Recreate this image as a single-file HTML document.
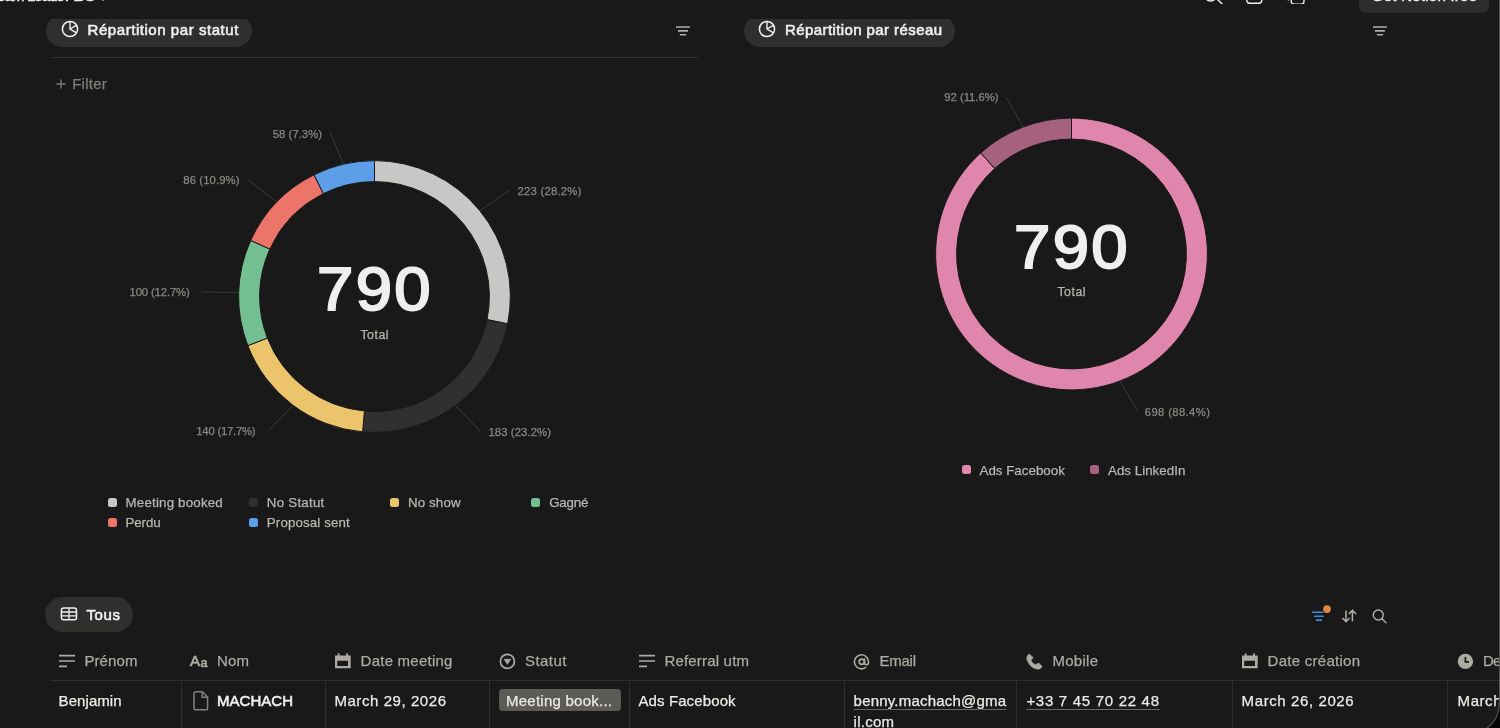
<!DOCTYPE html>
<html lang="fr"><head><meta charset="utf-8"><title>Leads ADS</title>
<style>
html,body{margin:0;padding:0;background:#050505;}
body{width:1500px;height:728px;overflow:hidden;position:relative;font-family:"Liberation Sans",sans-serif;}
#win{position:absolute;left:0;top:-60px;width:1500px;height:792px;background:#191919;overflow:hidden;}
#page{position:absolute;left:0;top:60px;width:1500px;height:728px;will-change:transform;}
.t{position:absolute;white-space:nowrap;line-height:20px;height:20px;}
.abs{position:absolute;}
svg{position:absolute;overflow:visible;}
svg text{font-family:"Liberation Sans",sans-serif;}
.pill{position:absolute;background:#2f2f2d;border-radius:17px;}
.vline{position:absolute;width:1px;background:#2e2e2e;top:681px;height:60px;}
.u{text-decoration:underline;text-decoration-color:#6a6a68;text-decoration-thickness:1px;text-underline-offset:2.5px;}
</style></head><body>
<div id="win"><div id="page">
<div class="t " style="left:-3.00px;top:-13.90px;font-size:15px;color:#f0efed;letter-spacing:-0.867px;-webkit-text-stroke:0.5px #f0efed;">eam Leads ADS</div>
<svg width="12" height="6" style="left:98px;top:-4px" viewBox="0 0 12 6"><path d="M1 0L5 4L9 0" fill="none" stroke="#f0efed" stroke-width="1.4"/></svg>
<svg width="120" height="8" style="left:1200px;top:0" viewBox="0 0 120 8"><circle cx="10.5" cy="-5" r="6" fill="none" stroke="#f0efed" stroke-width="1.5"/><path d="M15.5 -2.500L22.400 4.300" stroke="#f0efed" stroke-width="1.5" stroke-linecap="round"/><rect x="46.8" y="-12" width="15" height="15.2" rx="3" fill="none" stroke="#f0efed" stroke-width="1.4"/><rect x="91.2" y="-10" width="12.800" height="14.200" rx="3" fill="none" stroke="#f0efed" stroke-width="1.4"/><path d="M88.4 -2V0.5" stroke="#f0efed" stroke-width="1.4"/></svg>
<div class="abs" style="left:1359px;top:-20px;width:130px;height:32.8px;background:#2d2d2b;border-radius:7px"></div>
<div class="t " style="left:1371.80px;top:-14.30px;font-size:15px;color:#f0efed;letter-spacing:0.249px;-webkit-text-stroke:0.5px #f0efed;">Get Notion free</div>
<div class="pill" style="left:46px;top:14.7px;width:205.6px;height:32px"></div>
<div class="pill" style="left:743.8px;top:14.7px;width:211.4px;height:32px"></div>
<div class="abs" style="left:0;top:4px;width:1358px;height:15px;background:#191919"></div>
<div class="abs" style="left:1358px;top:13px;width:140px;height:6px;background:#191919"></div>
<svg width="20" height="20" style="left:60.20px;top:18.90px" viewBox="60.20 18.90 20 20"><circle cx="70.2" cy="28.9" r="7.6" fill="none" stroke="#f0efed" stroke-width="1.5"/><path d="M70.20 21.30L70.2 28.9L76.78 32.70M70.2 28.9L76.78 25.10" fill="none" stroke="#f0efed" stroke-width="1.4"/></svg>
<svg width="20" height="20" style="left:757.20px;top:18.90px" viewBox="757.20 18.90 20 20"><circle cx="767.2" cy="28.9" r="7.6" fill="none" stroke="#f0efed" stroke-width="1.5"/><path d="M767.20 21.30L767.2 28.9L773.78 32.70M767.2 28.9L773.78 25.10" fill="none" stroke="#f0efed" stroke-width="1.4"/></svg>
<div class="t " style="left:87.60px;top:19.80px;font-size:15px;color:#f0efed;letter-spacing:0.546px;-webkit-text-stroke:0.6px #f0efed;">Répartition par statut</div>
<div class="t " style="left:785.00px;top:19.80px;font-size:15px;color:#f0efed;letter-spacing:0.409px;-webkit-text-stroke:0.6px #f0efed;">Répartition par réseau</div>
<svg width="16" height="12" style="left:676.20px;top:25.15px" viewBox="0 0 16 12"><path d="M0 2H13.9M2 5.9H11.9M3.8 9.8H10.2" stroke="#b0aea8" stroke-width="1.6" fill="none"/></svg>
<svg width="16" height="12" style="left:1373.40px;top:25.15px" viewBox="0 0 16 12"><path d="M0 2H13.9M2 5.9H11.9M3.8 9.8H10.2" stroke="#b0aea8" stroke-width="1.6" fill="none"/></svg>
<div class="abs" style="left:51px;top:57px;width:647px;height:1px;background:#303030"></div>
<svg width="10" height="10" style="left:56px;top:79px" viewBox="0 0 10 10"><path d="M5 0.5V9.5M0.5 5H9.5" stroke="#7f7d78" stroke-width="1.3"/></svg>
<div class="t " style="left:72.20px;top:73.80px;font-size:15px;color:#7f7d78;letter-spacing:0.253px;-webkit-text-stroke:0.25px #7f7d78;">Filter</div>
<svg width="1500" height="560" style="left:0;top:0" viewBox="0 0 1500 560"><path d="M374.50 160.60A135.9 135.9 0 0 1 507.61 323.87L487.05 319.64A114.9 114.9 0 0 0 374.50 181.60Z" fill="#c8c7c5" stroke="#191919" stroke-width="1"/><path d="M507.61 323.87A135.9 135.9 0 0 1 362.63 431.88L364.46 410.96A114.9 114.9 0 0 0 487.05 319.64Z" fill="#303030" stroke="#191919" stroke-width="1"/><path d="M362.63 431.88A135.9 135.9 0 0 1 247.79 345.62L267.37 338.03A114.9 114.9 0 0 0 364.46 410.96Z" fill="#ecc46c" stroke="#191919" stroke-width="1"/><path d="M247.79 345.62A135.9 135.9 0 0 1 250.72 240.40L269.85 249.07A114.9 114.9 0 0 0 267.37 338.03Z" fill="#74bf91" stroke="#191919" stroke-width="1"/><path d="M250.72 240.40A135.9 135.9 0 0 1 314.01 174.80L323.36 193.61A114.9 114.9 0 0 0 269.85 249.07Z" fill="#ec7469" stroke="#191919" stroke-width="1"/><path d="M314.01 174.80A135.9 135.9 0 0 1 374.50 160.60L374.50 181.60A114.9 114.9 0 0 0 323.36 193.61Z" fill="#5c9fe8" stroke="#191919" stroke-width="1"/><path d="M1071.50 118.10A135.9 135.9 0 1 1 980.70 152.89L994.73 168.51A114.9 114.9 0 1 0 1071.50 139.10Z" fill="#e085ab" stroke="#191919" stroke-width="1"/><path d="M980.70 152.89A135.9 135.9 0 0 1 1071.50 118.10L1071.50 139.10A114.9 114.9 0 0 0 994.73 168.51Z" fill="#a5617e" stroke="#191919" stroke-width="1"/><path d="M480.1 210.8L510.1 189.9M455.4 405.3L480.4 431.6M292.8 405.3L268.1 431.1M238.8 292.6L201.0 291.8M277.0 202.3L248.1 179.9M343.4 164.4L330.4 132.9M1023.1 126.9L1006.3 97.3M1120.1 380.9L1137.4 411.1" stroke="#3c3c3a" stroke-width="1" fill="none"/><text x="517.50" y="195.20" font-size="11.3" fill="#8a8883" stroke="#8a8883" stroke-width="0.25" letter-spacing="0.236">223 (28.2%)</text><text x="488.40" y="436.30" font-size="11.3" fill="#8a8883" stroke="#8a8883" stroke-width="0.25" letter-spacing="0.106">183 (23.2%)</text><text x="196.30" y="435.40" font-size="11.3" fill="#8a8883" stroke="#8a8883" stroke-width="0.25" letter-spacing="-0.224">140 (17.7%)</text><text x="129.60" y="296.20" font-size="11.3" fill="#8a8883" stroke="#8a8883" stroke-width="0.25" letter-spacing="-0.144">100 (12.7%)</text><text x="183.30" y="184.00" font-size="11.3" fill="#8a8883" stroke="#8a8883" stroke-width="0.25" letter-spacing="0.104">86 (10.9%)</text><text x="272.80" y="137.90" font-size="11.3" fill="#8a8883" stroke="#8a8883" stroke-width="0.25" letter-spacing="0.028">58 (7.3%)</text><text x="944.20" y="101.30" font-size="11.3" fill="#8a8883" stroke="#8a8883" stroke-width="0.25" letter-spacing="-0.002">92 (11.6%)</text><text x="1144.80" y="416.00" font-size="11.3" fill="#8a8883" stroke="#8a8883" stroke-width="0.25" letter-spacing="0.356">698 (88.4%)</text></svg>
<div class="t " style="left:316.80px;top:279.46px;font-size:61px;color:#f0efed;letter-spacing:2.196px;-webkit-text-stroke:2px #f0efed;transform:scaleX(1.07);transform-origin:0 0;">790</div>
<div class="t " style="left:360.40px;top:324.74px;font-size:12.3px;color:#b9b6af;letter-spacing:0.556px;-webkit-text-stroke:0.25px #b9b6af;">Total</div>
<div class="t " style="left:1013.80px;top:236.96px;font-size:61px;color:#f0efed;letter-spacing:2.196px;-webkit-text-stroke:2px #f0efed;transform:scaleX(1.07);transform-origin:0 0;">790</div>
<div class="t " style="left:1057.40px;top:282.24px;font-size:12.3px;color:#b9b6af;letter-spacing:0.556px;-webkit-text-stroke:0.25px #b9b6af;">Total</div>
<div class="abs" style="left:107.8px;top:498.0px;width:9px;height:9px;border-radius:2.5px;background:#c8c7c5"></div>
<div class="t " style="left:125.60px;top:492.59px;font-size:13.3px;color:#b9b6af;letter-spacing:0.191px;-webkit-text-stroke:0.25px #b9b6af;">Meeting booked</div>
<div class="abs" style="left:249.0px;top:498.0px;width:9px;height:9px;border-radius:2.5px;background:#303030"></div>
<div class="t " style="left:266.80px;top:492.59px;font-size:13.3px;color:#b9b6af;letter-spacing:0.258px;-webkit-text-stroke:0.25px #b9b6af;">No Statut</div>
<div class="abs" style="left:390.2px;top:498.0px;width:9px;height:9px;border-radius:2.5px;background:#ecc46c"></div>
<div class="t " style="left:408.00px;top:492.59px;font-size:13.3px;color:#b9b6af;letter-spacing:0.128px;-webkit-text-stroke:0.25px #b9b6af;">No show</div>
<div class="abs" style="left:531.4px;top:498.0px;width:9px;height:9px;border-radius:2.5px;background:#74bf91"></div>
<div class="t " style="left:549.20px;top:492.59px;font-size:13.3px;color:#b9b6af;letter-spacing:-0.156px;-webkit-text-stroke:0.25px #b9b6af;">Gagné</div>
<div class="abs" style="left:107.8px;top:518.4px;width:9px;height:9px;border-radius:2.5px;background:#ec7469"></div>
<div class="t " style="left:125.60px;top:512.99px;font-size:13.3px;color:#b9b6af;letter-spacing:-0.120px;-webkit-text-stroke:0.25px #b9b6af;">Perdu</div>
<div class="abs" style="left:249.0px;top:518.4px;width:9px;height:9px;border-radius:2.5px;background:#5c9fe8"></div>
<div class="t " style="left:266.80px;top:512.99px;font-size:13.3px;color:#b9b6af;letter-spacing:0.141px;-webkit-text-stroke:0.25px #b9b6af;">Proposal sent</div>
<div class="abs" style="left:962px;top:465px;width:9px;height:9px;border-radius:2.5px;background:#e085ab"></div>
<div class="t " style="left:979.50px;top:460.59px;font-size:13.3px;color:#b9b6af;letter-spacing:0.027px;-webkit-text-stroke:0.25px #b9b6af;">Ads Facebook</div>
<div class="abs" style="left:1090.3px;top:465px;width:9px;height:9px;border-radius:2.5px;background:#a5617e"></div>
<div class="t " style="left:1108.00px;top:460.59px;font-size:13.3px;color:#b9b6af;letter-spacing:0.038px;-webkit-text-stroke:0.25px #b9b6af;">Ads LinkedIn</div>
<div class="pill" style="left:45px;top:597px;width:88px;height:35px;border-radius:17.5px"></div>
<svg width="20" height="16" style="left:59px;top:606px" viewBox="59 606 20 16"><rect x="61.4" y="607.95" width="15.1" height="11.8" rx="2.3" fill="none" stroke="#f0efed" stroke-width="1.5"/><path d="M61.4 612H76.5M61.4 615.900H76.5M68.950 607.950V619.750" stroke="#f0efed" stroke-width="1.3" fill="none"/></svg>
<div class="t " style="left:86.50px;top:605.40px;font-size:15px;color:#f0efed;letter-spacing:0.572px;-webkit-text-stroke:0.6px #f0efed;">Tous</div>
<svg width="20" height="18" style="left:1310px;top:604px" viewBox="1310 604 20 18"><path d="M1312.1 612.3H1325.9M1314.1 616.2H1323.9M1316 620.1H1322" stroke="#3a8fe0" stroke-width="1.6" fill="none"/><circle cx="1327" cy="609.1" r="4.9" fill="#191919"/><circle cx="1327" cy="609.1" r="3.9" fill="#e0873e"/></svg>
<svg width="18" height="16" style="left:1340px;top:608px" viewBox="1340 608 18 16"><path d="M1346 610.4V621.4M1342.4 618L1346 621.6L1349.6 618M1352.4 621.6V610.6M1348.8 614L1352.4 610.4L1356 614" stroke="#b0aea8" stroke-width="1.5" fill="none"/></svg>
<svg width="18" height="18" style="left:1370px;top:607px" viewBox="1370 607 18 18"><circle cx="1378.3" cy="615" r="5" fill="none" stroke="#b0aea8" stroke-width="1.4"/><path d="M1382 618.7L1386 622.7" stroke="#b0aea8" stroke-width="1.4" stroke-linecap="round"/></svg>
<div class="abs" style="left:50px;top:680px;width:1450px;height:1px;background:#2f2f2f"></div>
<div class="vline" style="left:181px"></div>
<div class="vline" style="left:325px"></div>
<div class="vline" style="left:489px"></div>
<div class="vline" style="left:629px"></div>
<div class="vline" style="left:844px"></div>
<div class="vline" style="left:1016px"></div>
<div class="vline" style="left:1232px"></div>
<div class="vline" style="left:1447px"></div>
<svg width="16" height="14" style="left:59px;top:654px" viewBox="0 0 16 14"><path d="M0 1.6H16M0 7H16M0 12.4H8" stroke="#adaaa3" stroke-width="1.6" fill="none"/></svg>
<div class="t " style="left:84.40px;top:651.40px;font-size:15px;color:#adaaa3;letter-spacing:0.096px;-webkit-text-stroke:0.25px #adaaa3;">Prénom</div>
<div class="t " style="left:190.00px;top:651.40px;font-size:15px;color:#adaaa3;letter-spacing:-0.505px;-webkit-text-stroke:0.7px #adaaa3;">A</div>
<div class="t " style="left:200.40px;top:652.67px;font-size:12.5px;color:#adaaa3;letter-spacing:1.148px;-webkit-text-stroke:0.7px #adaaa3;">a</div>
<div class="t " style="left:217.00px;top:651.40px;font-size:15px;color:#adaaa3;letter-spacing:0.165px;-webkit-text-stroke:0.25px #adaaa3;">Nom</div>
<svg width="16" height="16" style="left:334.9px;top:652.6px" viewBox="0 0 16 16"><path d="M0 2.5H15.7V15.3H0Z M2.25 7.85V13H13V7.85Z" fill="#adaaa3" fill-rule="evenodd"/><rect x="2.7" y="0.4" width="1.9" height="3" fill="#adaaa3"/><rect x="11.1" y="0.4" width="1.9" height="3" fill="#adaaa3"/></svg>
<div class="t " style="left:360.60px;top:651.40px;font-size:15px;color:#adaaa3;letter-spacing:0.235px;-webkit-text-stroke:0.25px #adaaa3;">Date meeting</div>
<svg width="17" height="17" style="left:499px;top:652.6px" viewBox="0 0 17 17"><circle cx="8.4" cy="8.4" r="7" fill="none" stroke="#adaaa3" stroke-width="1.7"/><path d="M5.2 6.300H11.600L8.400 11.200Z" fill="#adaaa3" stroke="#adaaa3" stroke-width="0.8" stroke-linejoin="round"/></svg>
<div class="t " style="left:525.00px;top:651.40px;font-size:15px;color:#adaaa3;letter-spacing:0.442px;-webkit-text-stroke:0.25px #adaaa3;">Statut</div>
<svg width="16" height="14" style="left:638.6px;top:654px" viewBox="0 0 16 14"><path d="M0 1.6H16M0 7H16M0 12.4H8" stroke="#adaaa3" stroke-width="1.6" fill="none"/></svg>
<div class="t " style="left:664.40px;top:651.40px;font-size:15px;color:#adaaa3;letter-spacing:0.189px;-webkit-text-stroke:0.25px #adaaa3;">Referral utm</div>
<svg width="17.52" height="17.52" style="left:853.34px;top:652.64px" viewBox="0 0 24 24" fill="none" stroke="#adaaa3" stroke-width="2.2" stroke-linecap="round"><circle cx="12" cy="12" r="3.6"/><path d="M15.8 8.2v5a2.700 2.700 0 0 0 5.400 0v-1.200a9.600 9.600 0 1 0-3.800 7.700"/></svg>
<div class="t " style="left:879.60px;top:651.40px;font-size:15px;color:#adaaa3;letter-spacing:-0.277px;-webkit-text-stroke:0.25px #adaaa3;">Email</div>
<svg width="18" height="18" style="left:1026px;top:653px" viewBox="0 0 18 18"><path d="M3.2 0.9L7.100 4.400L5.100 7.400Q6.200 10.600 9.600 11.800L12.700 9.900L16.200 13.400Q14.800 16 12.100 16.300Q6 15.600 2.600 10.200Q0.500 7 0.700 4.400Q1.200 2 3.200 0.900Z" fill="#adaaa3" stroke="#adaaa3" stroke-width="0.5" stroke-linejoin="round"/></svg>
<div class="t " style="left:1052.40px;top:651.40px;font-size:15px;color:#adaaa3;letter-spacing:0.283px;-webkit-text-stroke:0.25px #adaaa3;">Mobile</div>
<svg width="16" height="16" style="left:1242px;top:652.6px" viewBox="0 0 16 16"><path d="M0 2.5H15.7V15.3H0Z M2.25 7.85V13H13V7.85Z" fill="#adaaa3" fill-rule="evenodd"/><rect x="2.7" y="0.4" width="1.9" height="3" fill="#adaaa3"/><rect x="11.1" y="0.4" width="1.9" height="3" fill="#adaaa3"/></svg>
<div class="t " style="left:1267.60px;top:651.40px;font-size:15px;color:#adaaa3;letter-spacing:0.265px;-webkit-text-stroke:0.25px #adaaa3;">Date création</div>
<svg width="17" height="17" style="left:1457px;top:652.6px" viewBox="0 0 17 17"><circle cx="8.4" cy="8.4" r="7.7" fill="#adaaa3"/><path d="M8.4 4V8.8H12" stroke="#191919" stroke-width="1.7" fill="none"/></svg>
<div class="t " style="left:1483.00px;top:651.40px;font-size:15px;color:#adaaa3;letter-spacing:-0.789px;-webkit-text-stroke:0.25px #adaaa3;">Dernière</div>
<div class="t " style="left:58.60px;top:690.60px;font-size:15px;color:#ecebe7;letter-spacing:0.067px;-webkit-text-stroke:0.25px #ecebe7;">Benjamin</div>
<svg width="16" height="20" style="left:192.6px;top:691px" viewBox="0 0 16 20"><path d="M2.8 0.8H9.4L14.6 6V17A1.8 1.8 0 0 1 12.800 18.800H2.800A1.800 1.800 0 0 1 1 17V2.600A1.800 1.800 0 0 1 2.800 0.800ZM9.200 0.800V6.200H14.600" fill="none" stroke="#83817c" stroke-width="1.5" stroke-linejoin="round"/></svg>
<div class="t " style="left:217.00px;top:690.60px;font-size:15px;color:#f0efed;letter-spacing:0.028px;-webkit-text-stroke:0.6px #f0efed;">MACHACH</div>
<div class="t " style="left:334.40px;top:690.60px;font-size:15px;color:#ecebe7;letter-spacing:0.567px;-webkit-text-stroke:0.25px #ecebe7;">March 29, 2026</div>
<div class="abs" style="left:499px;top:689.2px;width:121.6px;height:21.8px;border-radius:4px;background:#5c5b58"></div>
<div class="t " style="left:506.00px;top:690.60px;font-size:15px;color:#eceae6;letter-spacing:0.246px;-webkit-text-stroke:0.25px #eceae6;">Meeting book...</div>
<div class="t " style="left:638.40px;top:690.60px;font-size:15px;color:#ecebe7;letter-spacing:0.119px;-webkit-text-stroke:0.25px #ecebe7;">Ads Facebook</div>
<div class="t u" style="left:853.60px;top:690.60px;font-size:15px;color:#ecebe7;letter-spacing:0.200px;-webkit-text-stroke:0.25px #ecebe7;">benny.machach@gma</div>
<div class="t u" style="left:853.60px;top:711.80px;font-size:15px;color:#ecebe7;letter-spacing:0.246px;-webkit-text-stroke:0.25px #ecebe7;">il.com</div>
<div class="t u" style="left:1026.40px;top:690.60px;font-size:15px;color:#ecebe7;letter-spacing:0.702px;-webkit-text-stroke:0.25px #ecebe7;">+33 7 45 70 22 48</div>
<div class="t " style="left:1241.60px;top:690.60px;font-size:15px;color:#ecebe7;letter-spacing:0.598px;-webkit-text-stroke:0.25px #ecebe7;">March 26, 2026</div>
<div class="t " style="left:1457.60px;top:690.60px;font-size:15px;color:#ecebe7;letter-spacing:0.551px;-webkit-text-stroke:0.25px #ecebe7;">March 29, 2026</div>
</div></div>
<svg width="1500" height="728" style="left:0;top:0" viewBox="0 0 1500 728"><path d="M1499.5 -1V700C1499.500 715 1495 722.500 1485 729.500H1501V-1Z" fill="#050505"/><path d="M1499.5 -1V700C1499.500 715 1495 722.500 1485 729.500" fill="none" stroke="#585858" stroke-width="1.1"/></svg>
</body></html>
